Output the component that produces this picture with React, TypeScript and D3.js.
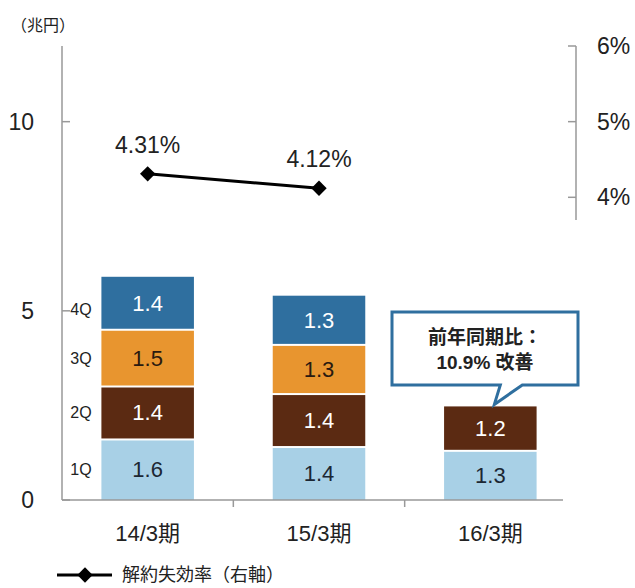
import React from "react";
import * as d3 from "d3";

const categories = ["14/3期", "15/3期", "16/3期"];
const quarters = ["1Q", "2Q", "3Q", "4Q"];
const q1 = [1.6, 1.4, 1.3];
const q2 = [1.4, 1.4, 1.2];
const q3 = [1.5, 1.3, null];
const q4 = [1.4, 1.3, null];
const lapseRate = [4.31, 4.12];
const lapseLabels = ["4.31%", "4.12%"];
const leftTicks = [0, 5, 10];
const rightTicks = [4, 5, 6];
const calloutLines = ["前年同期比：", "10.9% 改善"];
const legendLabel = "解約失効率（右軸）";
const unitLabel = "（兆円）";

const colors = ["#a8d0e6", "#5b2a12", "#e8952f", "#2f6f9f"];
const textColors = ["#1c2733", "#ffffff", "#2a1a10", "#ffffff"];
const FONT = "'Liberation Sans', Arial, 'Noto Sans CJK JP', sans-serif";

export default function App() {
  const W = 635, H = 588;
  const x = d3.scaleBand<string>().domain(categories).range([62, 576]).padding(0);
  const y = d3.scaleLinear().domain([0, 12]).range([500, 46]);
  const yR = d3.scaleLinear().domain([3.7, 6]).range([220, 46]);
  const barW = x.bandwidth() * 0.54;
  const cx = (c: string) => (x(c) as number) + x.bandwidth() / 2;

  const series = [q1, q2, q3, q4];
  const segs: any[] = [];
  categories.forEach((c, i) => {
    let acc = 0;
    series.forEach((s, k) => {
      const v = s[i];
      if (v == null) return;
      segs.push({ c, k, y0: acc, y1: acc + v, v });
      acc += v;
    });
  });

  const line = d3.line<number>().x((_, i) => cx(categories[i])).y((d) => yR(d));
  const diamond = d3.symbol().type(d3.symbolDiamond2).size(150)();
  const legDiamond = d3.symbol().type(d3.symbolDiamond2).size(150)();

  const c3 = categories[2];
  const tipX = cx(c3) + 4;
  const tipY = y(q1[2] + q2[2]) - 1;
  const bx0 = 392, bx1 = 578, by0 = 312, by1 = 385;
  const calloutPath = `M${bx0},${by0}H${bx1}V${by1}H${tipX + 28}L${tipX},${tipY}L${tipX + 6},${by1}H${bx0}Z`;

  return (
    <svg width={W} height={H} style={{ position: "absolute", left: 0, top: 0, background: "#fff" }} fontFamily={FONT}>
      <text x={11} y={25} fontSize={16} fill="#222" dominantBaseline="central">{unitLabel}</text>

      <line x1={62} x2={62} y1={y(12)} y2={y(0)} stroke="#999" strokeWidth={1.5} />
      {leftTicks.map((t) => (
        <g key={t}>
          <line x1={62} x2={70} y1={y(t)} y2={y(t)} stroke="#999" strokeWidth={1.5} />
          <text x={34} y={y(t)} fontSize={23} textAnchor="end" dominantBaseline="central" fill="#222">{t}</text>
        </g>
      ))}

      <line x1={576} x2={576} y1={yR(6)} y2={yR(3.7)} stroke="#999" strokeWidth={1.5} />
      {rightTicks.map((t) => (
        <g key={t}>
          <line x1={568} x2={576} y1={yR(t)} y2={yR(t)} stroke="#999" strokeWidth={1.5} />
          <text x={597} y={yR(t)} fontSize={23} dominantBaseline="central" fill="#222">{t}%</text>
        </g>
      ))}

      {segs.map((s, i) => {
        const top = y(s.y1) + (s.k < 3 ? 1 : 0);
        const bot = y(s.y0) - (s.k > 0 ? 1 : 0);
        return (
          <g key={i}>
            <rect x={cx(s.c) - barW / 2} width={barW} y={top} height={bot - top} fill={colors[s.k]} />
            <text x={cx(s.c)} y={(y(s.y0) + y(s.y1)) / 2} fontSize={22} textAnchor="middle" dominantBaseline="central" fill={textColors[s.k]}>
              {s.v.toFixed(1)}
            </text>
          </g>
        );
      })}

      {quarters.map((q, k) => {
        let acc = 0;
        for (let j = 0; j < k; j++) acc += (series[j][0] as number);
        const mid = (y(acc) + y(acc + (series[k][0] as number))) / 2;
        return (
          <text key={q} x={81} y={mid + (k === 3 ? 6 : 0)} fontSize={16} textAnchor="middle" dominantBaseline="central" fill="#222">{q}</text>
        );
      })}

      <line x1={62} x2={563} y1={y(0)} y2={y(0)} stroke="#999" strokeWidth={1.5} />
      {categories.slice(1).map((c) => (
        <line key={c} x1={x(c) as number} x2={x(c) as number} y1={y(0)} y2={y(0) + 7} stroke="#999" strokeWidth={1.5} />
      ))}
      {categories.map((c) => (
        <text key={c} x={cx(c)} y={533} fontSize={22} textAnchor="middle" dominantBaseline="central" fill="#222">{c}</text>
      ))}

      <path d={line(lapseRate) as string} fill="none" stroke="#000" strokeWidth={3} />
      {lapseRate.map((v, i) => (
        <g key={i}>
          <path d={diamond as string} transform={`translate(${cx(categories[i])},${yR(v)})`} fill="#000" />
          <text x={cx(categories[i])} y={yR(v) - 29} fontSize={23} textAnchor="middle" dominantBaseline="central" fill="#222">{lapseLabels[i]}</text>
        </g>
      ))}

      <path d={calloutPath} fill="#fff" stroke="#2f6f9f" strokeWidth={3} strokeLinejoin="miter" />
      {calloutLines.map((t, i) => (
        <text key={i} x={(bx0 + bx1) / 2} y={337 + i * 25} fontSize={19} fontWeight="bold" textAnchor="middle" dominantBaseline="central" fill="#222">{t}</text>
      ))}

      <line x1={57} x2={112} y1={575} y2={575} stroke="#000" strokeWidth={3} />
      <path d={legDiamond as string} transform="translate(85,575)" fill="#000" />
      <text x={122} y={575} fontSize={18} dominantBaseline="central" fill="#222">{legendLabel}</text>
    </svg>
  );
}
